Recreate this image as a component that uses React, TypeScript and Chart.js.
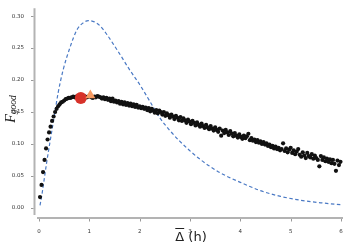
import React, { useEffect, useRef } from 'react';
import { Chart, registerables } from 'chart.js';

Chart.register(...registerables);

// Simulated F_good points (black dots)
const DOT_X = [
  0.02, 0.05, 0.08, 0.11, 0.14, 0.17, 0.20, 0.23, 0.26, 0.29,
  0.32, 0.35, 0.38, 0.41, 0.44, 0.47, 0.50, 0.53, 0.56, 0.59,
  0.62, 0.65, 0.68, 0.71, 0.74, 0.77, 0.80, 0.83, 0.86, 0.89,
  0.92, 0.95, 0.98, 1.01, 1.04, 1.07, 1.10, 1.13, 1.16, 1.19,
  1.22, 1.25, 1.28, 1.31, 1.34, 1.37, 1.40, 1.43, 1.46, 1.49,
  1.52, 1.55, 1.58, 1.61, 1.64, 1.67, 1.70, 1.73, 1.76, 1.79,
  1.82, 1.85, 1.88, 1.91, 1.94, 1.97, 2.00, 2.03, 2.06, 2.09,
  2.12, 2.15, 2.18, 2.21, 2.24, 2.27, 2.30, 2.33, 2.36, 2.39,
  2.42, 2.45, 2.48, 2.51, 2.54, 2.57, 2.60, 2.63, 2.66, 2.69,
  2.72, 2.75, 2.78, 2.81, 2.84, 2.87, 2.90, 2.93, 2.96, 2.99,
  3.02, 3.05, 3.08, 3.11, 3.14, 3.17, 3.20, 3.23, 3.26, 3.29,
  3.32, 3.35, 3.38, 3.41, 3.44, 3.47, 3.50, 3.53, 3.56, 3.59,
  3.62, 3.65, 3.68, 3.71, 3.74, 3.77, 3.80, 3.83, 3.86, 3.89,
  3.92, 3.95, 3.98, 4.01, 4.04, 4.07, 4.10, 4.13, 4.16, 4.19,
  4.22, 4.25, 4.28, 4.31, 4.34, 4.37, 4.40, 4.43, 4.46, 4.49,
  4.52, 4.55, 4.58, 4.61, 4.64, 4.67, 4.70, 4.73, 4.76, 4.79,
  4.82, 4.85, 4.88, 4.91, 4.94, 4.97, 5.00, 5.03, 5.06, 5.09,
  5.12, 5.15, 5.18, 5.21, 5.24, 5.27, 5.30, 5.33, 5.36, 5.39,
  5.42, 5.45, 5.48, 5.51, 5.54, 5.57, 5.60, 5.63, 5.66, 5.69,
  5.72, 5.75, 5.78, 5.81, 5.84, 5.87, 5.90, 5.93, 5.96, 5.99,
];
const DOT_Y = [
  0.017, 0.036, 0.056, 0.075, 0.093, 0.107, 0.118, 0.127, 0.136, 0.143,
  0.150, 0.155, 0.159, 0.162, 0.165, 0.166, 0.168, 0.170, 0.171, 0.172,
  0.172, 0.173, 0.174, 0.173, 0.174, 0.175, 0.174, 0.175, 0.174, 0.175,
  0.174, 0.173, 0.174, 0.175, 0.173, 0.172, 0.174, 0.173, 0.175, 0.174,
  0.173, 0.171, 0.173, 0.170, 0.172, 0.169, 0.171, 0.167, 0.171, 0.166,
  0.168, 0.165, 0.167, 0.163, 0.166, 0.162, 0.165, 0.161, 0.164, 0.160,
  0.163, 0.159, 0.162, 0.158, 0.161, 0.157, 0.159, 0.156, 0.158, 0.155,
  0.157, 0.153, 0.156, 0.151, 0.155, 0.152, 0.149, 0.153, 0.148, 0.152,
  0.150, 0.146, 0.150, 0.144, 0.148, 0.145, 0.141, 0.146, 0.143, 0.139,
  0.144, 0.141, 0.137, 0.142, 0.136, 0.140, 0.137, 0.133, 0.138, 0.135,
  0.131, 0.136, 0.133, 0.129, 0.134, 0.130, 0.127, 0.132, 0.128, 0.125,
  0.130, 0.126, 0.123, 0.128, 0.124, 0.121, 0.126, 0.122, 0.119, 0.124,
  0.113, 0.121, 0.117, 0.122, 0.118, 0.114, 0.120, 0.116, 0.112, 0.117,
  0.113, 0.110, 0.115, 0.111, 0.108, 0.113, 0.109, 0.112, 0.116, 0.106,
  0.109, 0.105, 0.107, 0.103, 0.106, 0.102, 0.104, 0.100, 0.103, 0.099,
  0.101, 0.097, 0.099, 0.095, 0.097, 0.093, 0.096, 0.092, 0.094, 0.090,
  0.092, 0.101, 0.089, 0.093, 0.087, 0.091, 0.094, 0.086, 0.090, 0.084,
  0.088, 0.092, 0.083, 0.080, 0.087, 0.082, 0.078, 0.086, 0.081, 0.079,
  0.084, 0.077, 0.082, 0.078, 0.075, 0.065, 0.081, 0.075, 0.079, 0.073,
  0.077, 0.072, 0.076, 0.070, 0.075, 0.069, 0.058, 0.074, 0.067, 0.072,
];

// Analytic curve (blue dashed)
const CURVE_X = [
  0.02, 0.06, 0.10, 0.15, 0.22, 0.30, 0.38, 0.48, 0.62, 0.75,
  0.87, 0.98, 1.10, 1.21, 1.35, 1.47, 1.61, 1.80, 2.00, 2.20,
  2.40, 2.60, 2.80, 3.20, 3.60, 4.00, 4.40, 4.80, 5.20, 5.60, 6.00,
];
const CURVE_Y = [
  0.004, 0.022, 0.043, 0.070, 0.104, 0.142, 0.180, 0.216, 0.252, 0.278,
  0.289, 0.293, 0.291, 0.285, 0.271, 0.257, 0.240, 0.216, 0.193, 0.167,
  0.141, 0.121, 0.104, 0.076, 0.055, 0.040, 0.027, 0.018, 0.012, 0.008, 0.005,
];

// Highlighted optimum markers
const CIRCLE_X = [0.83];
const CIRCLE_Y = [0.172];
const TRIANGLE_X = [1.02];
const TRIANGLE_Y = [0.176];

const X_TICKS = [0, 1, 2, 3, 4, 5, 6];
const Y_TICKS = [0.0, 0.05, 0.1, 0.15, 0.2, 0.25, 0.3];

const zip = (xs: number[], ys: number[]) => xs.map((x, i) => ({ x, y: ys[i] }));

const axesPlugin = {
  id: 'offsetAxes',
  afterDraw(chart: any) {
    const ctx = chart.ctx as CanvasRenderingContext2D;
    const { left, right, top, bottom } = chart.chartArea;
    const xs = chart.scales.x;
    const ys = chart.scales.y;
    ctx.save();
    // axis lines (detached spines)
    ctx.strokeStyle = '#b3b3b3';
    ctx.lineWidth = 2;
    ctx.beginPath();
    ctx.moveTo(left - 2.5, top);
    ctx.lineTo(left - 2.5, bottom);
    ctx.moveTo(left, bottom + 3);
    ctx.lineTo(right, bottom + 3);
    ctx.stroke();
    // tick marks
    ctx.strokeStyle = '#999';
    ctx.lineWidth = 1;
    ctx.beginPath();
    X_TICKS.forEach((v) => {
      const px = Math.round(xs.getPixelForValue(v)) + 0.5;
      ctx.moveTo(px, bottom + 4);
      ctx.lineTo(px, bottom + 6.5);
    });
    Y_TICKS.forEach((v) => {
      const py = Math.round(ys.getPixelForValue(v)) + 0.5;
      ctx.moveTo(left - 3.5, py);
      ctx.lineTo(left - 6, py);
    });
    ctx.stroke();

    // x-axis title: Δ with overbar, then " (h)"
    ctx.fillStyle = '#222';
    ctx.font = '13px "DejaVu Sans"';
    ctx.textBaseline = 'alphabetic';
    const d = 'Δ';
    const rest = ' (h)';
    const wd = ctx.measureText(d).width;
    const wr = ctx.measureText(rest).width;
    const cx = (left + right) / 2 + 1;
    const sx = cx - (wd + wr) / 2;
    const by = 241;
    ctx.textAlign = 'left';
    ctx.fillText(d, sx, by);
    ctx.fillText(rest, sx + wd, by);
    ctx.strokeStyle = '#222';
    ctx.lineWidth = 1;
    ctx.beginPath();
    ctx.moveTo(sx, 228.5);
    ctx.lineTo(sx + wd, 228.5);
    ctx.stroke();

    // y-axis title: F_good (italic serif, rotated)
    ctx.translate(15, 109);
    ctx.rotate(-Math.PI / 2);
    ctx.font = 'italic 14px "Liberation Serif"';
    const wF = ctx.measureText('F').width;
    ctx.font = 'italic 9.5px "Liberation Serif"';
    const wg = ctx.measureText('good').width;
    const tx = -(wF + wg) / 2;
    ctx.font = 'italic 14px "Liberation Serif"';
    ctx.fillText('F', tx, 0);
    ctx.font = 'italic 9.5px "Liberation Serif"';
    ctx.fillText('good', tx + wF, 0.5);
    ctx.restore();
  },
};

export default function App() {
  const ref = useRef<HTMLCanvasElement | null>(null);

  useEffect(() => {
    if (!ref.current) return;
    const chart = new Chart(ref.current, {
      type: 'scatter',
      data: {
        datasets: [
          {
            label: 'triangle',
            data: zip(TRIANGLE_X, TRIANGLE_Y),
            pointStyle: 'triangle',
            pointRadius: 5.8,
            backgroundColor: '#f59a62',
            borderWidth: 0,
            order: 0,
          },
          {
            label: 'circle',
            data: zip(CIRCLE_X, CIRCLE_Y),
            pointStyle: 'circle',
            pointRadius: 6,
            backgroundColor: '#d7322a',
            borderWidth: 0,
            order: 1,
          },
          {
            label: 'simulation',
            data: zip(DOT_X, DOT_Y),
            pointRadius: 2.1,
            backgroundColor: '#111',
            borderWidth: 0,
            order: 2,
          },
          {
            label: 'theory',
            data: zip(CURVE_X, CURVE_Y),
            showLine: true,
            pointRadius: 0,
            borderColor: '#4a79c4',
            borderWidth: 1.2,
            borderDash: [3.5, 2.5],
            cubicInterpolationMode: 'monotone',
            order: 3,
          } as any,
        ],
      },
      options: {
        responsive: false,
        animation: false,
        devicePixelRatio: 1,
        layout: { padding: { top: 3, right: 6, left: 0, bottom: 0 } },
        plugins: {
          legend: { display: false },
          tooltip: { enabled: false },
        },
        scales: {
          x: {
            type: 'linear',
            min: -0.04,
            max: 6.04,
            grid: { display: false },
            border: { display: false },
            afterFit: (s: any) => {
              s.height = 32;
            },
            afterBuildTicks: (s: any) => {
              s.ticks = X_TICKS.map((v) => ({ value: v }));
            },
            ticks: {
              padding: 5,
              color: '#333',
              font: { family: '"DejaVu Sans"', size: 5.5 },
              maxRotation: 0,
              callback: (v: any) => String(v),
            },
          },
          y: {
            type: 'linear',
            min: -0.0111,
            max: 0.3122,
            grid: { display: false },
            border: { display: false },
            afterFit: (s: any) => {
              s.width = 37;
            },
            afterBuildTicks: (s: any) => {
              s.ticks = Y_TICKS.map((v) => ({ value: v }));
            },
            ticks: {
              padding: 5,
              color: '#333',
              font: { family: '"DejaVu Sans"', size: 5.5 },
              callback: (v: any) => Number(v).toFixed(2),
            },
          },
        },
      },
      plugins: [axesPlugin],
    });
    return () => chart.destroy();
  }, []);

  return (
    <div style={{ position: 'fixed', left: 0, top: 0, width: 349, height: 247, background: '#fff' }}>
      <canvas ref={ref} width={349} height={247} style={{ display: 'block' }} />
    </div>
  );
}
